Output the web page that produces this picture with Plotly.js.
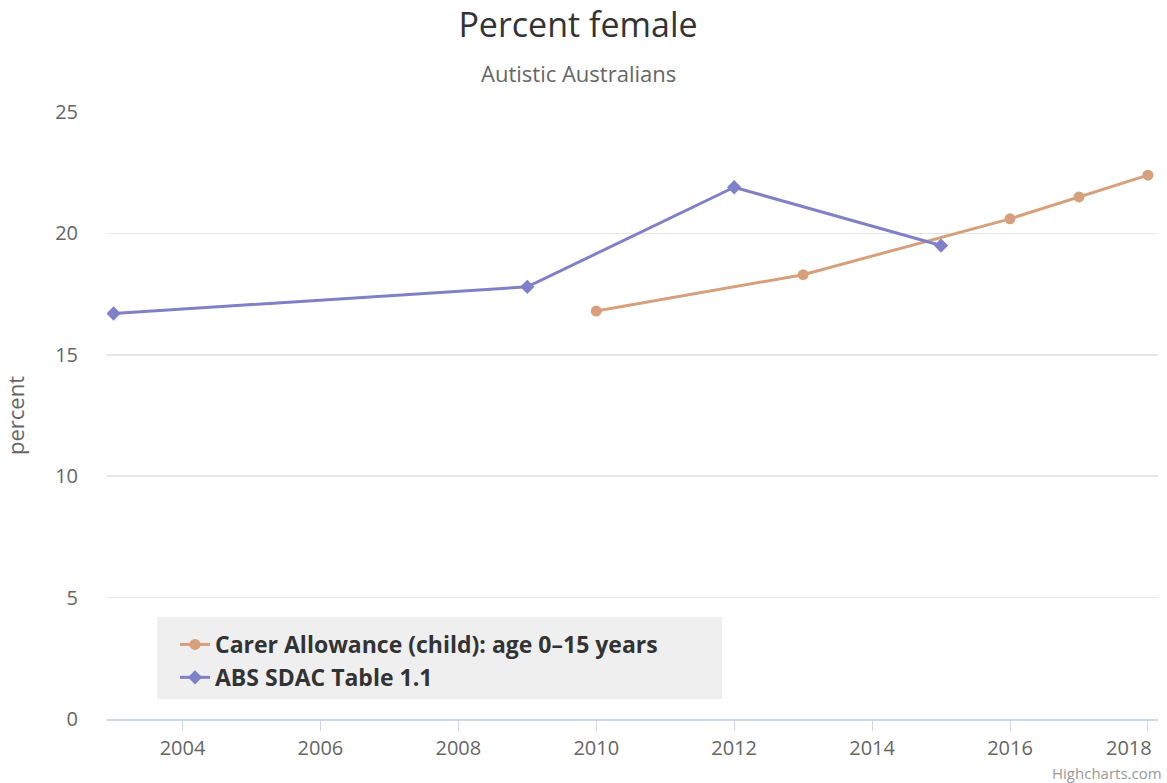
<!DOCTYPE html>
<html>
<head>
<meta charset="utf-8">
<script src="https://cdn.plot.ly/plotly-3.0.1.min.js"></script>
<style>
html,body{margin:0;padding:0;background:#fff;}
#chart{width:1167px;height:783px;}
</style>
</head>
<body>
<div id="chart"></div>
<script>
const carerYears = [2010, 2013, 2016, 2017, 2018];
const carerValues = [16.8, 18.3, 20.6, 21.5, 22.4];
const absYears = [2003, 2009, 2012, 2015];
const absValues = [16.7, 17.8, 21.9, 19.5];
const xTicks = [2004, 2006, 2008, 2010, 2012, 2014, 2016, 2018];
const yTicks = [0, 5, 10, 15, 20, 25];
const seriesNames = ['Carer Allowance (child): age 0–15 years', 'ABS SDAC Table 1.1'];

const FONT = '"Open Sans", "Liberation Sans", sans-serif';

const traces = [
  {
    x: carerYears, y: carerValues, name: seriesNames[0],
    type: 'scatter', mode: 'lines+markers',
    line: {color: '#d6a07c', width: 3},
    marker: {color: '#d6a07c', size: 11, symbol: 'circle'},
    hoverinfo: 'skip'
  },
  {
    x: absYears, y: absValues, name: seriesNames[1],
    type: 'scatter', mode: 'lines+markers',
    line: {color: '#8080c8', width: 3},
    marker: {color: '#8080c8', size: 11, symbol: 'diamond'},
    hoverinfo: 'skip'
  }
];

const L = 107, R = 9, T = 112, B = 64;
const W = 1167 - L - R, H = 783 - T - B;
const lastTick = xTicks[xTicks.length - 1];

const layout = {
  width: 1167, height: 783,
  margin: {l: L, r: R, t: T, b: B},
  paper_bgcolor: '#fff', plot_bgcolor: '#fff',
  font: {family: FONT, color: '#666'},
  showlegend: true,
  title: {
    text: 'Percent female',
    font: {family: FONT, size: 34, color: '#333'},
    x: 578 / 1167, xref: 'container', xanchor: 'center',
    y: 1 - 25/783, yref: 'container', yanchor: 'middle'
  },
  annotations: [
    {text: 'Autistic Australians', xref: 'paper', yref: 'paper',
     x: (578 - L) / W, y: (719 - 73) / H, yanchor: 'middle', xanchor: 'center',
     showarrow: false, font: {family: FONT, size: 22, color: '#666'}},
    {text: String(lastTick), xref: 'paper', yref: 'paper',
     x: (1154 - L) / W, y: -(747 - 719) / H, xanchor: 'right', yanchor: 'middle',
     showarrow: false, font: {family: FONT, size: 20, color: '#666'}},
    {text: 'Highcharts.com', xref: 'paper', yref: 'paper',
     x: 1 + (R - 3) / W, y: -(772.5 - 719) / H, xanchor: 'right', yanchor: 'middle',
     showarrow: false, font: {family: FONT, size: 15, color: '#999'}}
  ],
  xaxis: {
    range: [2002.905, 2018.146],
    tickvals: xTicks, ticktext: xTicks.map(v => v === lastTick ? '' : String(v)),
    ticks: 'outside', ticklen: 10, tickwidth: 1, tickcolor: '#ccd6eb',
    showline: true, linecolor: '#ccd6eb', linewidth: 2,
    showgrid: false, zeroline: false,
    tickfont: {family: FONT, size: 20, color: '#666'}
  },
  yaxis: {
    range: [0, 25],
    tickvals: yTicks, ticktext: yTicks.map(String),
    showgrid: true, gridcolor: '#e6e6e6', gridwidth: 1.5,
    zeroline: false, showline: false, ticks: '',
    ticklabelstandoff: 28,
    tickfont: {family: FONT, size: 20, color: '#666'},
    title: {text: 'percent', font: {family: FONT, size: 22, color: '#666'}, standoff: 24}
  },
  legend: {
    x: (175 - L) / W, xanchor: 'left',
    y: (719 - 623) / H, yanchor: 'top',
    bgcolor: 'rgba(0,0,0,0)', borderwidth: 0,
    font: {family: FONT, size: 23, color: '#333', weight: 'bold'},
    tracegroupgap: 0, itemwidth: 30
  },
  shapes: [
    {type: 'rect', xref: 'paper', yref: 'paper', layer: 'below',
     x0: (157 - L) / W, x1: (722 - L) / W,
     y0: (719 - 699) / H, y1: (719 - 617) / H,
     fillcolor: '#efefef', line: {width: 0}}
  ]
};

Plotly.newPlot('chart', traces, layout, {displayModeBar: false, staticPlot: true});
</script>
</body>
</html>
